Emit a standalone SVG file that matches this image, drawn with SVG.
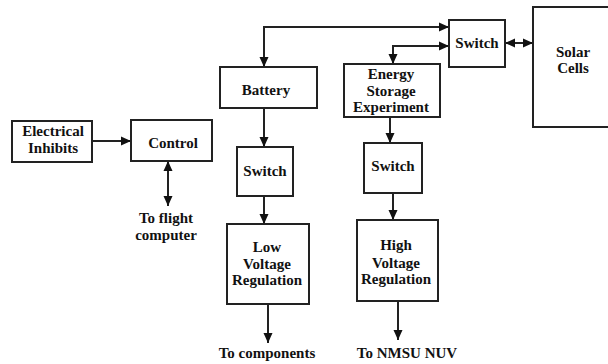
<svg xmlns="http://www.w3.org/2000/svg" width="608" height="364" viewBox="0 0 608 364">
<defs>
<style>
.box{fill:#fff;stroke:#222;stroke-width:2}
.ln{fill:none;stroke:#222;stroke-width:2}
text{font-family:"Liberation Serif","Times New Roman",serif;font-weight:bold;font-size:15px;fill:#111;text-anchor:middle}
</style>
<marker id="ah" markerUnits="userSpaceOnUse" markerWidth="10" markerHeight="10" viewBox="0 0 10 10" refX="10" refY="5" orient="auto-start-reverse">
<path d="M0,0.5 L10,5 L0,9.5 Z" fill="#111"/>
</marker>
</defs>
<rect width="608" height="364" fill="#fff"/>
<g id="connectors">
<path class="ln" d="M92,141 H131" marker-end="url(#ah)"/>
<path class="ln" d="M168,161 V206" marker-start="url(#ah)" marker-end="url(#ah)"/>
<path class="ln" d="M449,27 H264 V67" marker-start="url(#ah)" marker-end="url(#ah)"/>
<path class="ln" d="M449,46 H393 V64" marker-start="url(#ah)" marker-end="url(#ah)"/>
<path class="ln" d="M505,43 H533" marker-start="url(#ah)" marker-end="url(#ah)"/>
<path class="ln" d="M264,108 V147" marker-end="url(#ah)"/>
<path class="ln" d="M264,196 V224" marker-end="url(#ah)"/>
<path class="ln" d="M268,304 V343" marker-end="url(#ah)"/>
<path class="ln" d="M390,117 V143" marker-end="url(#ah)"/>
<path class="ln" d="M393,193 V220" marker-end="url(#ah)"/>
<path class="ln" d="M398,301 V340" marker-end="url(#ah)"/>
</g>
<g id="electrical-inhibits">
<rect class="box" x="12" y="121" width="80" height="41"/>
<text x="53" y="136">Electrical</text>
<text x="53" y="153">Inhibits</text>
</g>
<g id="control">
<rect class="box" x="131" y="120" width="81" height="41"/>
<text x="173" y="148">Control</text>
</g>
<g id="to-flight-computer">
<text x="166" y="223">To flight</text>
<text x="166" y="240">computer</text>
</g>
<g id="battery">
<rect class="box" x="220" y="67" width="97" height="41"/>
<text x="266" y="95">Battery</text>
</g>
<g id="energy-storage">
<rect class="box" x="344" y="64" width="96" height="53"/>
<text x="391" y="79">Energy</text>
<text x="391" y="96">Storage</text>
<text x="391" y="112">Experiment</text>
</g>
<g id="switch-top">
<rect class="box" x="449" y="20" width="56" height="47"/>
<text x="477" y="48">Switch</text>
</g>
<g id="solar-cells">
<rect class="box" x="533" y="7" width="80" height="120"/>
<text x="573" y="57">Solar</text>
<text x="573" y="73">Cells</text>
</g>
<g id="switch-left">
<rect class="box" x="237" y="147" width="56" height="49"/>
<text x="265" y="176">Switch</text>
</g>
<g id="low-voltage">
<rect class="box" x="227" y="224" width="82" height="80"/>
<text x="267" y="252">Low</text>
<text x="267" y="269">Voltage</text>
<text x="267" y="285">Regulation</text>
</g>
<g id="switch-right">
<rect class="box" x="364" y="143" width="58" height="50"/>
<text x="393" y="171">Switch</text>
</g>
<g id="high-voltage">
<rect class="box" x="357" y="220" width="81" height="81"/>
<text x="396" y="250">High</text>
<text x="396" y="268">Voltage</text>
<text x="396" y="284">Regulation</text>
</g>
<g id="outputs">
<text x="267" y="358">To components</text>
<text x="407" y="358">To NMSU NUV</text>
</g>
</svg>
